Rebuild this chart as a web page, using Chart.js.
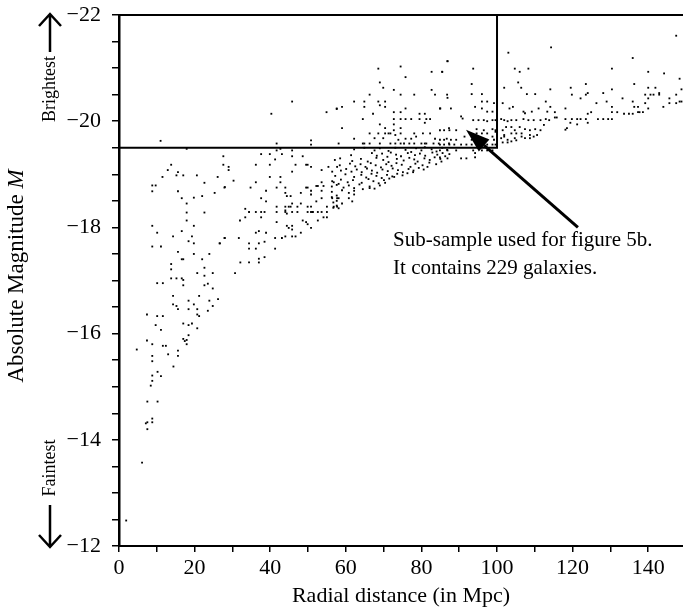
<!DOCTYPE html>
<html>
<head>
<meta charset="utf-8">
<script src="https://cdn.jsdelivr.net/npm/chart.js@4.4.1/dist/chart.umd.min.js"></script>
<style>
  html, body { margin: 0; padding: 0; background: #fff; }
</style>
</head>
<body>
<canvas id="magChart" width="683" height="609"></canvas>
<script>
// [radial distance (Mpc), absolute magnitude M]
const nearGalaxies = [
  [1.9,-12.48],[6.1,-13.57],[7.5,-14.20],[7.1,-14.31],[7.5,-14.33],[8.8,-14.33],[8.8,-14.40],[7.5,-14.72],[10.2,-14.72],
  [8.4,-15.02],[8.8,-15.11],[8.8,-15.21],[11.1,-15.20],[10.2,-15.28],[14.4,-15.38],[8.8,-15.48],[4.7,-15.70],[13.0,-15.61],
  [15.6,-15.58],[15.6,-15.68],[8.8,-15.58],[7.4,-15.87],[8.8,-15.80],[11.6,-15.77],[12.4,-15.77],[17.0,-15.90],[17.4,-15.86],
  [17.9,-15.80],[17.9,-15.88],[18.4,-15.97],[9.7,-16.16],[11.1,-16.07],[17.0,-16.19],[18.4,-16.16],[19.3,-16.19],[20.7,-16.10],
  [7.4,-16.36],[10.1,-16.33],[11.6,-16.33],[20.7,-16.36],[21.2,-16.33],[15.6,-16.46],[18.4,-16.46],[20.7,-16.46],[23.5,-16.43],
  [24.8,-16.52],[14.3,-16.55],[15.2,-16.52],[18.4,-16.62],[19.8,-16.55],[23.9,-16.62],[26.2,-16.65],[14.3,-16.71],[21.2,-16.71],
  [24.8,-16.85],[10.1,-16.95],[11.6,-16.95],[17.0,-16.91],[22.6,-16.91],[23.5,-16.94],[13.8,-17.04],[15.2,-17.04],[16.6,-17.04],
  [17.0,-17.01],[22.6,-17.09],[20.7,-17.14],[24.8,-17.14],[13.8,-17.21],[22.6,-17.24],[13.8,-17.31],[16.6,-17.40],[17.0,-17.40],
  [22.0,-17.40],[15.6,-17.54],[19.8,-17.50],[23.9,-17.50],[8.8,-17.64],[11.1,-17.64],[18.4,-17.74],[19.8,-17.70],[26.6,-17.70],
  [28.0,-17.80],[14.3,-17.83],[19.3,-17.83],[10.1,-17.90],[16.6,-17.93],[8.8,-18.03],[19.8,-18.03],[17.9,-18.13],[17.9,-18.28],
  [22.6,-18.28],[17.9,-18.45],[16.6,-18.55],[19.8,-18.56],[22.0,-18.59],[25.3,-18.65],[15.6,-18.68],[8.8,-18.68],[8.8,-18.79],
  [9.7,-18.79],[28.0,-18.76],[22.6,-18.84],[11.5,-18.95],[15.2,-18.98],[17.0,-18.98],[20.6,-18.98],[26.1,-18.95],[15.6,-19.04],
  [12.9,-19.08],[13.8,-19.18],[17.9,-19.48],[11.0,-19.63]
];

const midGalaxies = [
  [27.6,-19.34],[27.6,-19.18],[29.0,-19.14],[29.0,-19.08],[30.3,-18.88],[27.9,-18.75],[30.7,-17.14],[27.9,-17.80],[26.7,-17.70],
  [42.7,-19.48],[41.7,-19.45],[43.1,-19.38],[41.3,-19.28],[45.8,-19.45],[45.8,-19.34],[48.6,-19.34],[46.7,-19.18],[45.8,-19.05],
  [49.5,-19.18],[49.9,-19.18],[50.8,-19.14],[55.4,-19.14],[56.4,-19.05],[57.7,-19.14],[53.6,-19.08],[37.6,-19.38],[39.9,-19.38],
  [36.2,-19.18],[39.9,-19.18],[36.2,-18.85],[39.9,-18.95],[42.7,-18.95],[42.7,-18.85],[34.8,-18.75],[38.9,-18.69],[41.7,-18.75],
  [44.0,-18.75],[44.0,-18.65],[44.4,-18.59],[45.4,-18.59],[48.1,-18.65],[49.5,-18.75],[49.9,-18.75],[50.8,-18.69],[50.8,-18.62],
  [52.2,-18.78],[52.6,-18.78],[53.6,-18.85],[54.1,-18.78],[56.8,-18.85],[58.1,-18.82],[53.6,-18.69],[57.7,-18.55],[58.1,-18.55],
  [56.4,-18.55],[56.8,-18.39],[57.7,-18.39],[58.1,-18.36],[37.6,-18.55],[38.9,-18.49],[45.8,-18.45],[48.1,-18.45],[49.9,-18.39],
  [50.8,-18.39],[52.2,-18.49],[53.6,-18.55],[55.0,-18.39],[41.7,-18.39],[44.0,-18.39],[44.0,-18.32],[44.4,-18.26],[44.9,-18.39],
  [45.4,-18.39],[47.2,-18.39],[33.4,-18.35],[34.4,-18.29],[36.2,-18.29],[37.6,-18.29],[38.5,-18.29],[33.4,-18.19],[37.6,-18.19],
  [41.7,-18.29],[44.0,-18.29],[45.8,-18.29],[47.2,-18.29],[49.9,-18.29],[50.8,-18.29],[51.3,-18.29],[52.6,-18.29],[53.6,-18.29],
  [55.0,-18.29],[32.0,-18.13],[41.7,-18.10],[44.4,-18.03],[44.9,-17.99],[45.8,-18.03],[45.8,-17.96],[48.6,-18.13],[49.5,-18.10],
  [49.9,-18.06],[50.8,-17.99],[52.6,-18.13],[54.1,-18.19],[55.0,-18.19],[31.7,-17.80],[36.2,-17.90],[37.0,-17.93],[38.9,-17.90],
  [41.3,-17.80],[43.1,-17.80],[44.0,-17.83],[45.8,-17.83],[46.7,-17.83],[48.1,-17.90],[34.4,-17.70],[37.0,-17.70],[38.5,-17.73],
  [34.4,-17.60],[36.2,-17.60],[41.3,-17.60],[38.5,-17.44],[37.0,-17.41],[37.0,-17.34],[32.1,-17.34],[34.4,-17.34],
  [45.8,-20.37],[40.3,-20.14],[54.9,-20.17],[57.6,-20.23],[41.7,-19.58],[50.8,-19.64],[50.8,-19.56]
];

const innerGalaxies = [
  [74.5,-21.03],[68.6,-20.99],[82.7,-20.93],[85.5,-20.93],[86.9,-21.13],[75.8,-20.83],[69.0,-20.73],[69.9,-20.63],[72.7,-20.59],
  [66.3,-20.50],[74.5,-20.50],[78.1,-20.50],[82.7,-20.59],[83.6,-20.50],[86.8,-20.50],[57.6,-20.24],[59.0,-20.27],[62.2,-20.37],
  [64.9,-20.37],[68.6,-20.37],[70.4,-20.37],[64.9,-20.27],[70.4,-20.27],[69.0,-20.30],[75.8,-20.24],[85.0,-20.24],[67.2,-20.14],
  [72.7,-20.17],[74.5,-20.17],[79.5,-20.14],[80.9,-20.14],[64.5,-20.04],[72.7,-20.04],[74.5,-20.04],[75.8,-20.04],[77.3,-20.04],
  [79.5,-20.04],[81.3,-20.04],[82.3,-20.04],[69.0,-19.94],[72.7,-19.94],[80.9,-19.97],[59.0,-19.87],[70.4,-19.87],[72.7,-19.83],
  [74.5,-19.87],[87.3,-19.87],[66.3,-19.77],[68.6,-19.77],[70.4,-19.77],[71.3,-19.77],[71.8,-19.77],[73.1,-19.74],[74.5,-19.77],
  [78.1,-19.77],[80.4,-19.77],[82.3,-19.77],[75.8,-19.67],[77.3,-19.67],[78.6,-19.71],[83.6,-19.67],[86.7,-19.67],[62.2,-19.67],
  [67.6,-19.68],[69.9,-19.68],[73.9,-19.65],[58.1,-19.58],[64.5,-19.58],[64.9,-19.58],[66.3,-19.58],[69.0,-19.58],[71.8,-19.58],
  [73.1,-19.58],[74.5,-19.58],[75.4,-19.58],[76.8,-19.58],[78.1,-19.58],[80.0,-19.58],[80.9,-19.58],[81.3,-19.58],[83.2,-19.58],
  [84.6,-19.58],[87.3,-19.58],
  [62.2,-19.47],[64.9,-19.50],[67.6,-19.45],[69.0,-19.49],[71.3,-19.44],[73.1,-19.50],[75.8,-19.46],[77.3,-19.42],[78.6,-19.49],
  [80.0,-19.45],[80.9,-19.51],[82.7,-19.47],[84.0,-19.43],[85.5,-19.50],[86.8,-19.46],
  [61.4,-19.36],[66.9,-19.40],[68.2,-19.35],[69.6,-19.39],[71.0,-19.33],[71.9,-19.41],[73.3,-19.37],[74.6,-19.34],[76.4,-19.40],
  [78.3,-19.36],[79.6,-19.39],[81.0,-19.35],[82.9,-19.41],[84.2,-19.37],[85.6,-19.40],[87.4,-19.38],
  [57.1,-19.27],[58.5,-19.30],[61.7,-19.25],[64.0,-19.29],[65.8,-19.24],[68.1,-19.31],[69.9,-19.27],[71.3,-19.23],[73.5,-19.29],
  [75.3,-19.26],[76.8,-19.31],[78.1,-19.28],[79.0,-19.24],[80.8,-19.30],[82.2,-19.27],[83.5,-19.32],[85.0,-19.29],[86.3,-19.34],
  [58.4,-19.17],[61.1,-19.20],[62.5,-19.15],[63.9,-19.19],[65.2,-19.14],[66.6,-19.21],[67.9,-19.17],[69.3,-19.13],[70.7,-19.19],
  [72.1,-19.16],[73.4,-19.21],[74.8,-19.18],[77.1,-19.14],[78.4,-19.20],[80.3,-19.17],[82.1,-19.22],[83.9,-19.19],[85.3,-19.24],
  [58.7,-19.07],[60.1,-19.10],[61.5,-19.05],[62.9,-19.09],[64.2,-19.04],[65.6,-19.11],[66.9,-19.07],[68.3,-19.03],[69.7,-19.09],
  [71.1,-19.06],[72.4,-19.11],[73.8,-19.08],[75.1,-19.04],[76.6,-19.10],[77.9,-19.07],[79.3,-19.12],[80.6,-19.09],[81.6,-19.14],
  [57.2,-18.97],[59.9,-19.00],[62.2,-18.95],[64.1,-18.99],[65.4,-18.94],[66.8,-19.01],[68.1,-18.97],[69.5,-18.93],[70.9,-18.99],
  [72.3,-18.96],[73.6,-19.01],[75.0,-18.98],[76.3,-19.02],[77.8,-19.04],
  [56.4,-18.87],[58.7,-18.90],[60.5,-18.85],[61.9,-18.89],[64.2,-18.84],[66.0,-18.91],[67.3,-18.87],[68.7,-18.83],[70.1,-18.89],
  [71.5,-18.92],[72.8,-18.95],
  [56.3,-18.77],[57.6,-18.80],[59.4,-18.75],[60.8,-18.79],[62.2,-18.74],[63.6,-18.81],[66.3,-18.77],[67.6,-18.73],[69.0,-18.79],
  [70.4,-18.84],[56.3,-18.67],[59.0,-18.70],[60.8,-18.65],[62.2,-18.69],[64.5,-18.72],[66.3,-18.74],
  [56.3,-18.57],[57.6,-18.60],[60.8,-18.55],[62.2,-18.62],[56.7,-18.47],[57.6,-18.50],[59.0,-18.45],[61.7,-18.49],
  [56.7,-18.37],[57.6,-18.41]
];

const edgeGalaxies = [
  [103.0,-21.29],[114.3,-21.39],[86.9,-21.13],[93.7,-20.99],[85.5,-20.93],[104.7,-20.99],[106.0,-20.93],[108.3,-20.99],
  [93.3,-20.70],[105.6,-20.73],[101.9,-20.63],[106.4,-20.63],[114.1,-20.60],[86.9,-20.44],[93.3,-20.51],[96.0,-20.51],
  [96.0,-20.37],[97.4,-20.37],[107.9,-20.51],[110.1,-20.51],[112.9,-20.37],[84.9,-20.24],[87.8,-20.24],[94.2,-20.27],
  [96.0,-20.24],[99.2,-20.34],[98.8,-20.18],[97.4,-20.18],[101.5,-20.34],[103.3,-20.24],[104.2,-20.27],[107.0,-20.18],
  [107.4,-20.15],[109.2,-20.18],[111.0,-20.24],[113.3,-20.18],[114.1,-20.27],[90.5,-20.09],[90.9,-20.05],
  [93.7,-20.02],[95.1,-20.02],[96.5,-20.02],[97.4,-20.00],[98.8,-20.02],[99.6,-20.02],[101.1,-20.04],[101.9,-20.02],[102.8,-20.00],
  [103.8,-20.02],[105.1,-20.02],[107.0,-20.04],[108.3,-20.02],[109.7,-20.02],[111.5,-20.02],[112.9,-20.04],[113.8,-20.02],
  [84.9,-19.83],[86.0,-19.83],[87.4,-19.83],[89.2,-19.83],[94.6,-19.85],[96.5,-19.83],[98.8,-19.85],[99.6,-19.83],[101.5,-19.83],
  [102.4,-19.89],[103.8,-19.89],[104.7,-19.83],[106.0,-19.89],[107.4,-19.85],[108.7,-19.83],[110.1,-19.85],[111.5,-19.83],[112.4,-19.93],
  [94.6,-19.77],[96.0,-19.77],[97.4,-19.77],[99.6,-19.80],[101.9,-19.74],[103.8,-19.77],[105.1,-19.77],[106.5,-19.77],[108.7,-19.74],
  [84.9,-19.65],[86.0,-19.65],[87.8,-19.65],[89.2,-19.65],[91.4,-19.71],[93.3,-19.65],[96.0,-19.68],[97.4,-19.65],[98.8,-19.71],
  [99.2,-19.65],[101.1,-19.68],[101.9,-19.71],[102.8,-19.65],[104.7,-19.68],[106.5,-19.71],[107.4,-19.68],[108.7,-19.68],
  [109.7,-19.71],[110.6,-19.74],
  [84.9,-19.56],[86.0,-19.56],[87.4,-19.56],[88.7,-19.56],[90.5,-19.56],[91.9,-19.56],[93.3,-19.56],[95.1,-19.56],[96.5,-19.56],
  [97.4,-19.56],[98.8,-19.56],[99.6,-19.56],[101.5,-19.60],[102.8,-19.60],[103.8,-19.62],[105.1,-19.64],
  [84.9,-19.45],[86.9,-19.45],[89.2,-19.45],[93.7,-19.45],[94.2,-19.40],[96.0,-19.45],[97.4,-19.45],[98.8,-19.45],
  [84.9,-19.32],[86.9,-19.30],[90.5,-19.30],[91.9,-19.30],[94.2,-19.32]
];

const outerGalaxies = [
  [147.4,-21.61],[135.9,-21.19],[130.4,-20.99],[140.0,-20.93],[144.2,-20.90],[148.3,-20.80],[136.3,-20.70],[123.5,-20.70],
  [119.5,-20.63],[140.0,-20.63],[141.9,-20.63],[148.8,-20.60],[130.4,-20.60],[119.8,-20.50],[123.5,-20.50],[124.0,-20.53],
  [128.1,-20.53],[139.2,-20.50],[140.6,-20.50],[141.4,-20.50],[142.9,-20.53],[142.9,-20.50],[147.4,-20.50],[122.1,-20.43],
  [133.2,-20.43],[140.0,-20.43],[145.6,-20.43],[126.3,-20.34],[129.0,-20.37],[135.9,-20.37],[139.2,-20.34],[148.3,-20.37],
  [148.8,-20.37],[145.6,-20.34],[147.4,-20.34],[130.4,-20.27],[136.3,-20.27],[137.3,-20.27],[144.0,-20.27],[140.0,-20.24],
  [115.3,-20.17],[115.8,-20.07],[115.3,-20.07],[118.1,-20.24],[124.9,-20.17],[124.0,-20.14],[130.4,-20.17],[131.8,-20.17],
  [133.6,-20.14],[134.9,-20.14],[135.9,-20.14],[137.3,-20.17],[137.7,-20.17],[138.6,-20.17],[118.1,-20.04],[119.8,-20.04],
  [121.2,-20.04],[122.1,-20.04],[123.5,-20.04],[126.7,-20.04],[128.1,-20.04],[129.4,-20.04],[130.4,-20.04],[119.4,-19.97],
  [121.2,-19.94],[124.0,-19.97],[118.5,-19.87],[118.1,-19.84]
];

// outline of the sub-sample region and the annotation pointing into it
const sampleBox = [[0, -19.5], [100, -19.5], [100, -22]];
const pointerFrom = [121.4, -18.0];
const pointerTo = [91.8, -19.84];
const noteAt = [72.5, -17.76];
const noteLines = ['Sub-sample used for figure 5b.', 'It contains 229 galaxies.'];

const distanceLabels = [0, 20, 40, 60, 80, 100, 120, 140];
const magnitudeLabels = [-22, -20, -18, -16, -14, -12];

const SERIF = '"Liberation Serif", "Times New Roman", serif';

const toPoints = pairs => pairs.map(([x, y]) => ({ x, y }));
const allGalaxies = [].concat(nearGalaxies, midGalaxies, innerGalaxies, edgeGalaxies, outerGalaxies);

// titles, pointer and side arrows that chart.js has no element for
const decorations = {
  id: 'decorations',
  afterDraw(chart) {
    const { ctx, chartArea, scales: { x, y } } = chart;
    ctx.save();
    ctx.strokeStyle = '#000';
    ctx.fillStyle = '#000';

    // frame line along the top
    ctx.lineWidth = 2;
    ctx.beginPath();
    ctx.moveTo(chartArea.left, chartArea.top);
    ctx.lineTo(chartArea.right, chartArea.top);
    ctx.stroke();

    // pointer arrow
    const x0 = x.getPixelForValue(pointerFrom[0]), y0 = y.getPixelForValue(pointerFrom[1]);
    const x1 = x.getPixelForValue(pointerTo[0]), y1 = y.getPixelForValue(pointerTo[1]);
    const ang = Math.atan2(y1 - y0, x1 - x0);
    const headLen = 24, headHalf = 8;
    const bx = x1 - headLen * Math.cos(ang), by = y1 - headLen * Math.sin(ang);
    ctx.lineWidth = 3;
    ctx.beginPath();
    ctx.moveTo(x0, y0);
    ctx.lineTo(bx, by);
    ctx.stroke();
    ctx.beginPath();
    ctx.moveTo(x1, y1);
    ctx.lineTo(bx + headHalf * Math.sin(ang), by - headHalf * Math.cos(ang));
    ctx.lineTo(bx - headHalf * Math.sin(ang), by + headHalf * Math.cos(ang));
    ctx.closePath();
    ctx.fill();

    // note text
    ctx.font = '21px ' + SERIF;
    ctx.textAlign = 'left';
    ctx.textBaseline = 'middle';
    const tx = x.getPixelForValue(noteAt[0]), ty = y.getPixelForValue(noteAt[1]);
    noteLines.forEach((line, i) => ctx.fillText(line, tx, ty + i * 28));

    // y axis title with italic M
    ctx.save();
    ctx.translate(17, 276);
    ctx.rotate(-Math.PI / 2);
    ctx.font = '23px ' + SERIF;
    const part1 = 'Absolute Magnitude ';
    const w1 = ctx.measureText(part1).width;
    ctx.font = 'italic 23px ' + SERIF;
    const w2 = ctx.measureText('M').width;
    ctx.textAlign = 'left';
    ctx.font = '23px ' + SERIF;
    ctx.fillText(part1, -(w1 + w2) / 2, 0);
    ctx.font = 'italic 23px ' + SERIF;
    ctx.fillText('M', -(w1 + w2) / 2 + w1, 0);
    ctx.restore();

    // Brightest / Faintest
    ctx.font = '18px ' + SERIF;
    ctx.textAlign = 'center';
    [['Brightest', 89], ['Faintest', 468]].forEach(([word, cy]) => {
      ctx.save();
      ctx.translate(50, cy);
      ctx.rotate(-Math.PI / 2);
      ctx.fillText(word, 0, 0);
      ctx.restore();
    });

    ctx.lineWidth = 2.5;
    const sideArrow = (tipY, tailY) => {
      const dir = Math.sign(tailY - tipY);
      ctx.beginPath();
      ctx.moveTo(50, tailY);
      ctx.lineTo(50, tipY);
      ctx.moveTo(39, tipY + dir * 12);
      ctx.lineTo(50, tipY);
      ctx.lineTo(61, tipY + dir * 12);
      ctx.stroke();
    };
    sideArrow(14, 52);
    sideArrow(547, 505);

    ctx.restore();
  }
};

new Chart(document.getElementById('magChart'), {
  type: 'scatter',
  data: {
    datasets: [
      {
        label: 'galaxies',
        data: toPoints(allGalaxies),
        pointStyle: 'rect',
        pointRadius: 1.3,
        borderWidth: 0,
        backgroundColor: '#000'
      },
      {
        label: 'sub-sample',
        data: toPoints(sampleBox),
        showLine: true,
        pointRadius: 0,
        borderColor: '#000',
        borderWidth: 2
      }
    ]
  },
  options: {
    responsive: false,
    animation: false,
    events: [],
    devicePixelRatio: 1,
    layout: { autoPadding: false, padding: { top: 15, right: 0, bottom: 0, left: 0 } },
    plugins: { legend: { display: false }, tooltip: { enabled: false } },
    scales: {
      x: {
        type: 'linear',
        position: 'bottom',
        min: 0,
        max: 149.2,
        afterFit: s => { s.height = 63; s.paddingLeft = 0; s.paddingRight = 0; },
        border: { color: '#000', width: 2 },
        grid: { drawOnChartArea: false, drawTicks: true, tickLength: 6, color: '#000', lineWidth: 1.5 },
        ticks: {
          stepSize: 10,
          includeBounds: false,
          autoSkip: false,
          maxRotation: 0,
          padding: 3,
          color: '#000',
          font: { family: SERIF, size: 22 },
          callback: v => distanceLabels.includes(v) ? String(v) : ''
        },
        title: {
          display: true,
          text: 'Radial distance (in Mpc)',
          color: '#000',
          font: { family: SERIF, size: 22 },
          padding: 0
        }
      },
      y: {
        type: 'linear',
        min: -22,
        max: -12,
        reverse: true,
        afterFit: s => { s.width = 119; s.paddingTop = 0; s.paddingBottom = 0; },
        border: { color: '#000', width: 2.5 },
        grid: { drawOnChartArea: false, drawTicks: true, tickLength: 7, color: '#000', lineWidth: 1.5 },
        ticks: {
          stepSize: 0.5,
          includeBounds: false,
          autoSkip: false,
          padding: 11,
          color: '#000',
          font: { family: SERIF, size: 22 },
          callback: v => magnitudeLabels.includes(v) ? '\u2212' + Math.abs(v) : ''
        }
      }
    }
  },
  plugins: [decorations]
});
</script>
</body>
</html>
